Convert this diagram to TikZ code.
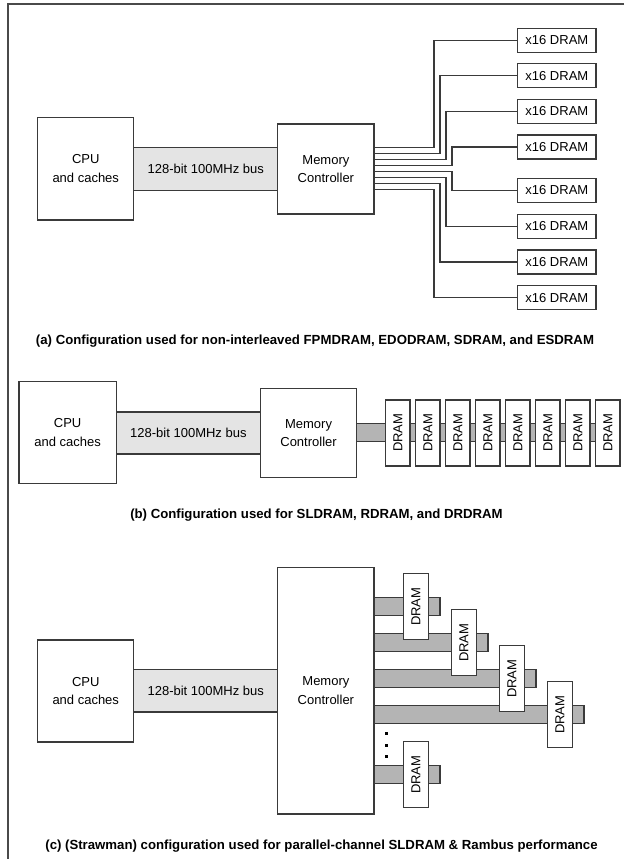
\documentclass[tikz,border=0pt]{standalone}
\usepackage{fontspec}
\setmainfont{Liberation Sans}
\usetikzlibrary{calc}
\definecolor{linec}{HTML}{3A3A3A}
\definecolor{framec}{HTML}{4A4A4A}
\definecolor{busgray}{HTML}{E4E4E4}
\definecolor{bargray}{HTML}{B4B4B4}
\tikzset{
  box/.style={draw=linec, line width=1.3pt, fill=white, inner sep=0pt, outer sep=0pt,
    align=center, font=\fontsize{13}{18.6}\selectfont},
  bus/.style={draw=linec, line width=1.3pt, fill=busgray, inner sep=0pt, outer sep=0pt,
    font=\fontsize{13}{15}\selectfont},
  bar/.style={draw=linec, line width=1.3pt, fill=bargray, inner sep=0pt, outer sep=0pt},
  xdram/.style={box, minimum width=78.3pt, minimum height=24pt},
  vdram/.style={box, rotate=90, minimum width=66pt, minimum height=24.4pt},
  wire/.style={draw=linec, line width=1.5pt},
  caption/.style={font=\fontsize{13.2}{15}\selectfont\bfseries, inner sep=0pt},
  dotsq/.style={fill=black, inner sep=0pt, minimum size=3pt}
}
\begin{document}
\begin{tikzpicture}[x=1pt, y=-1pt]
\useasboundingbox (0,0) rectangle (624,859);
% frame
\draw[framec, line width=1.8pt] (624,4) -- (8,4) -- (8,859);

% ---------------- (a) ----------------
\node[bus, minimum width=144.1pt, minimum height=42.6pt] (busA) at (205.75,169) {128-bit 100MHz bus};
\node[box, minimum width=95.9pt, minimum height=102.7pt] (cpuA) at (85.75,168.65) {CPU\\and caches};
\node[box, minimum width=96.2pt, minimum height=90pt] (mcA) at (325.9,169) {Memory\\Controller};
\foreach \i/\y in {1/40.3,2/75.7,3/111.3,4/147,5/190.3,6/226.3,7/262,8/297.7}{
  \node[xdram] (dA\i) at (556.85,\y) {x16 DRAM};
}
\foreach \i/\y/\x in {1/147.7/434,2/153.7/440,3/159.7/446,4/165.7/452,5/171.7/452,6/177.7/446,7/183.7/440,8/189.7/434}{
  \coordinate (oA\i) at (mcA.east |- 0,\y);
  \draw[wire] (oA\i) -- (\x,\y) |- (dA\i.west);
}
\node[caption] (capA) at (315,341) {(a) Configuration used for non-interleaved FPMDRAM, EDODRAM, SDRAM, and ESDRAM};

% ---------------- (b) ----------------
\node[bus, minimum width=144.4pt, minimum height=42pt] (busB) at (188.4,433) {128-bit 100MHz bus};
\node[box, minimum width=97.1pt, minimum height=102pt] (cpuB) at (67.65,432.7) {CPU\\and caches};
\node[box, minimum width=95.9pt, minimum height=89.4pt] (mcB) at (308.55,433) {Memory\\Controller};
\coordinate (barBend) at (620,432.5);
\path[bar] (mcB.east |- 0,423.3) rectangle (barBend |- 0,441.7);
\foreach \i in {1,...,8}{
  \node[vdram] (dB\i) at ({397.85+30*(\i-1)},432.85) {DRAM};
}
\node[caption] (capB) at (316.5,515) {(b) Configuration used for SLDRAM, RDRAM, and DRDRAM};

% ---------------- (c) ----------------
\node[bus, minimum width=144.1pt, minimum height=42.3pt] (busC) at (205.75,690.85) {128-bit 100MHz bus};
\node[box, minimum width=95.9pt, minimum height=102pt] (cpuC) at (85.75,691) {CPU\\and caches};
\node[box, minimum width=96.2pt, minimum height=246.3pt] (mcC) at (325.9,690.85) {Memory\\Controller};
\foreach \i/\y/\xe in {1/606.7/440,2/642.7/488,3/678.7/536,4/714.7/584,5/774.7/440}{
  \coordinate (eC\i) at (\xe,\y);
  \path[bar] ($(mcC.east |- eC\i)+(0,-9)$) rectangle ($(eC\i)+(0,9)$);
}
\foreach \i/\y/\xd in {1/606.7/416,2/642.7/464,3/678.7/512,4/714.7/560,5/774.7/416}{
  \node[vdram] (dC\i) at (\xd,\y) {DRAM};
}
\node[dotsq] (dot1) at (386,733.7) {};
\node[dotsq] (dot2) at (386,745) {};
\node[dotsq] (dot3) at (386,756.3) {};
\node[caption] (capC) at (321.5,846) {(c) (Strawman) configuration used for parallel-channel SLDRAM \& Rambus performance};
\end{tikzpicture}
\end{document}
